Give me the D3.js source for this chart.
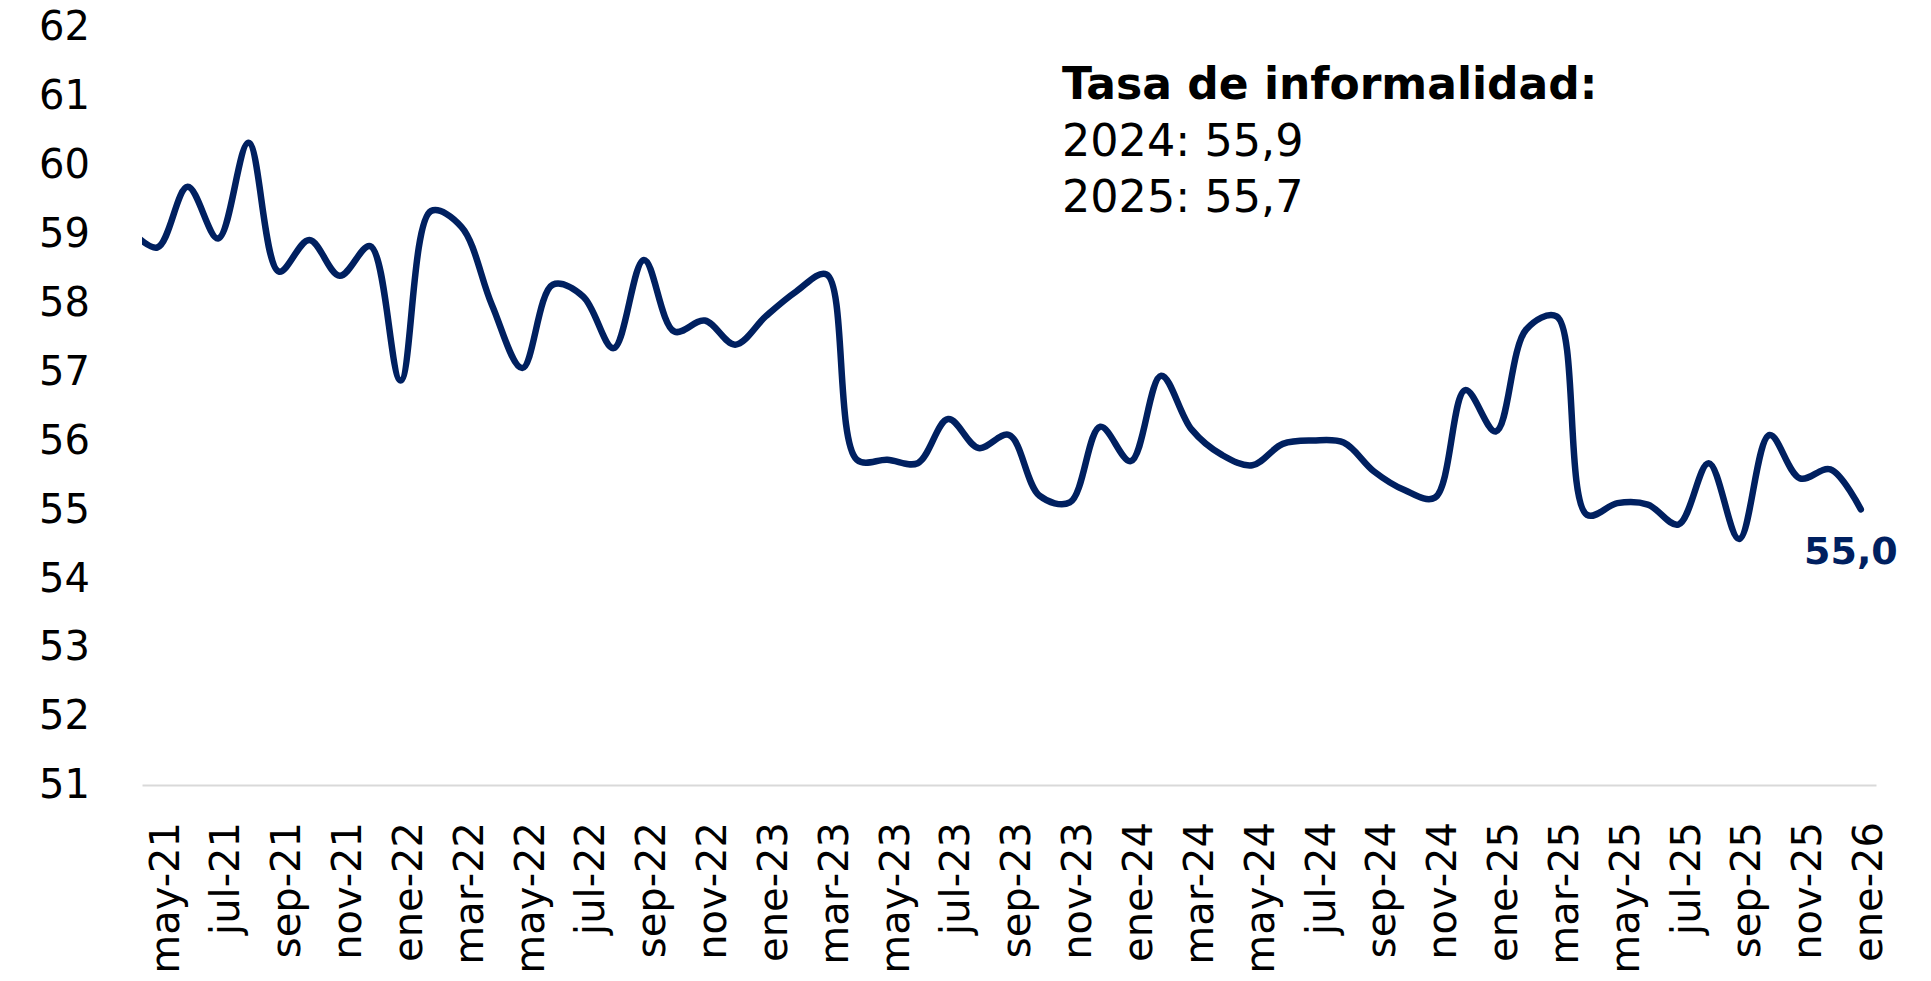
<!DOCTYPE html>
<html lang="es">
<head>
<meta charset="utf-8">
<title>Tasa de informalidad</title>
<script src="https://cdn.jsdelivr.net/npm/d3@7/dist/d3.min.js"></script>
<style>
  html, body { margin: 0; padding: 0; background: #fff; }
  svg { display: block; font-family: 'DejaVu Sans', sans-serif; }
</style>
</head>
<body>
<div id="chart"></div>
<script>
// months shown on the axis (may-21 .. ene-26)
const months = [
  'may-21', 'jun-21', 'jul-21', 'ago-21', 'sep-21', 'oct-21', 'nov-21', 'dic-21',
  'ene-22', 'feb-22', 'mar-22', 'abr-22', 'may-22', 'jun-22', 'jul-22', 'ago-22', 'sep-22', 'oct-22', 'nov-22', 'dic-22',
  'ene-23', 'feb-23', 'mar-23', 'abr-23', 'may-23', 'jun-23', 'jul-23', 'ago-23', 'sep-23', 'oct-23', 'nov-23', 'dic-23',
  'ene-24', 'feb-24', 'mar-24', 'abr-24', 'may-24', 'jun-24', 'jul-24', 'ago-24', 'sep-24', 'oct-24', 'nov-24', 'dic-24',
  'ene-25', 'feb-25', 'mar-25', 'abr-25', 'may-25', 'jun-25', 'jul-25', 'ago-25', 'sep-25', 'oct-25', 'nov-25', 'dic-25',
  'ene-26'
];

// informality rate (%), one value per month
const rates = [
  58.80, 59.68, 58.93, 60.32, 58.45, 58.91, 58.39, 58.82,
  56.87, 59.33, 59.10, 57.97, 57.05, 58.26, 58.09, 57.34, 58.62, 57.58, 57.74, 57.39,
  57.80, 58.16, 58.41, 55.72, 55.72, 55.67, 56.31, 55.89, 56.08, 55.20, 55.10, 56.20,
  55.70, 56.94, 56.16, 55.79, 55.64, 55.95, 56.00, 55.97, 55.55, 55.28, 55.17, 56.73,
  56.13, 57.61, 57.80, 54.92, 55.09, 55.07, 54.78, 55.67, 54.57, 56.08, 55.45, 55.58,
  55.00
];

// abr-21: month before the axis start, only its tail is visible at the left edge
const previousRate = 59.1;

const yTicks = [51, 52, 53, 54, 55, 56, 57, 58, 59, 60, 61, 62];
const xTickEvery = 2;

const noteTitle = 'Tasa de informalidad:';
const noteLines = ['2024: 55,9', '2025: 55,7'];
const lastLabel = '55,0';

const W = 1931, H = 981;
const navy = '#002060';

const svg = d3.select('#chart').append('svg')
  .attr('width', W)
  .attr('height', H);

const x = d3.scaleLinear()
  .domain([-0.5, months.length - 0.5])
  .range([142, 1876]);

const y = d3.scaleLinear()
  .domain([51, 62])
  .range([785, 27]);

// y axis
const yAxis = svg.append('g')
  .attr('transform', 'translate(90,0)')
  .call(d3.axisLeft(y).tickValues(yTicks).tickSize(0).tickPadding(0).tickFormat(d3.format('d')));
yAxis.select('.domain').remove();
yAxis.selectAll('text')
  .attr('font-family', "'DejaVu Sans', sans-serif")
  .attr('font-size', 40)
  .attr('fill', '#000');

// x axis
const xAxis = svg.append('g')
  .attr('transform', 'translate(0,' + y(51) + ')')
  .call(d3.axisBottom(x)
    .tickValues(d3.range(0, months.length, xTickEvery))
    .tickFormat(function(i) { return months[i]; })
    .tickSize(0)
    .tickSizeOuter(0));
xAxis.select('.domain')
  .attr('stroke', '#d9d9d9')
  .attr('stroke-width', 2);
xAxis.selectAll('text')
  .attr('font-family', "'DejaVu Sans', sans-serif")
  .attr('font-size', 40)
  .attr('fill', '#000')
  .attr('transform', 'rotate(-90)')
  .attr('text-anchor', 'end')
  .attr('x', -37)
  .attr('y', 0)
  .attr('dy', '0.52em');

// clip the line to the plot area so the previous month only shows as a tail
svg.append('clipPath')
  .attr('id', 'plot-clip')
  .append('rect')
  .attr('x', x(-0.5))
  .attr('y', 0)
  .attr('width', x(months.length - 0.5) - x(-0.5))
  .attr('height', H);

const series = [{i: -1, v: previousRate}].concat(rates.map(function(v, i) {
  return {i: i, v: v};
}));

const line = d3.line()
  .x(function(d) { return x(d.i); })
  .y(function(d) { return y(d.v); })
  .curve(d3.curveCatmullRom);

svg.append('path')
  .datum(series)
  .attr('clip-path', 'url(#plot-clip)')
  .attr('d', line)
  .attr('fill', 'none')
  .attr('stroke', navy)
  .attr('stroke-width', 6.5)
  .attr('stroke-linecap', 'round')
  .attr('stroke-linejoin', 'round');

// last value label
const lastIndex = rates.length - 1;
svg.append('text')
  .attr('x', x(lastIndex) + 37)
  .attr('y', y(rates[lastIndex]) + 55)
  .attr('text-anchor', 'end')
  .attr('font-size', 38)
  .attr('font-weight', 'bold')
  .attr('fill', navy)
  .text(lastLabel);

// note
const note = svg.append('g').attr('transform', 'translate(1062,0)');
note.append('text')
  .attr('y', 99)
  .attr('font-size', 44)
  .attr('font-weight', 'bold')
  .attr('fill', '#000')
  .text(noteTitle);
note.selectAll('text.line')
  .data(noteLines)
  .enter()
  .append('text')
  .attr('class', 'line')
  .attr('y', function(d, i) { return 156 + i * 56; })
  .attr('font-size', 44.5)
  .attr('fill', '#000')
  .text(function(d) { return d; });
</script>
</body>
</html>
